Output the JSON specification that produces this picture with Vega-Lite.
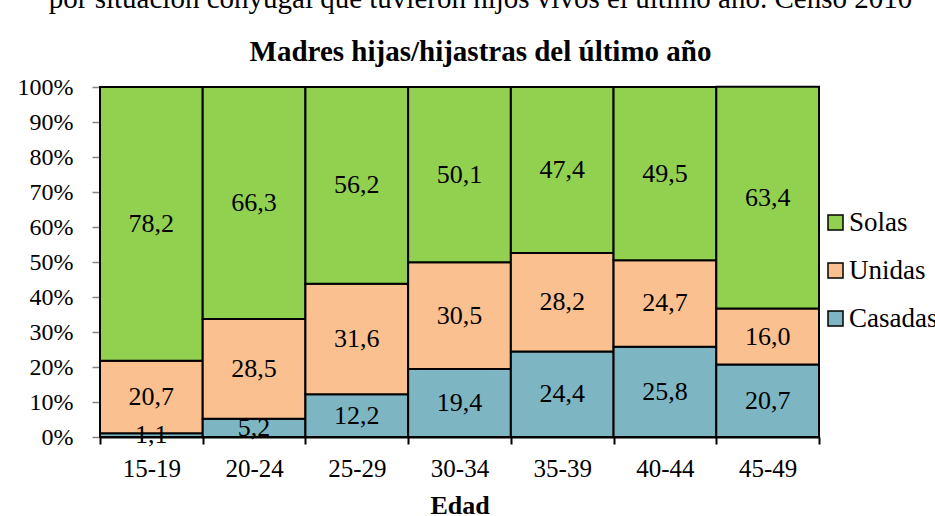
{
  "$schema": "https://vega.github.io/schema/vega-lite/v6.json",
  "width": 719,
  "height": 350,
  "autosize": {"type": "none"},
  "padding": {"left": 100, "top": 87, "right": 116, "bottom": 79},
  "config": {
    "locale": {"number": {"decimal": ",", "thousands": ".", "grouping": [3], "currency": ["", ""]}},
    "view": {"stroke": null},
    "font": "Liberation Serif",
    "axisY": {
      "title": null,
      "values": [0, 10, 20, 30, 40, 50, 60, 70, 80, 90, 100],
      "labelExpr": "datum.value + '%'",
      "labelOverlap": false,
      "grid": false,
      "domainColor": "#868686",
      "domainWidth": 2,
      "tickColor": "#868686",
      "tickWidth": 1.5,
      "tickSize": 8,
      "labelFont": "Liberation Serif",
      "labelFontSize": 24,
      "labelColor": "black",
      "labelPadding": 19
    }
  },
  "title": {
    "text": "por situación conyugal que tuvieron hijos vivos el último año. Censo 2010",
    "subtitle": "Madres hijas/hijastras del último año",
    "font": "Liberation Serif",
    "subtitleFont": "Liberation Serif",
    "fontSize": 29,
    "fontWeight": "normal",
    "subtitleFontSize": 29,
    "subtitleFontWeight": "bold",
    "color": "black",
    "subtitleColor": "black",
    "anchor": "middle",
    "dx": 21,
    "offset": 8,
    "subtitlePadding": 24.5
  },
  "data": {
    "values": [
      {"edad": "15-19", "estado": "Casadas", "orden": 1, "valor": 1.1},
      {"edad": "15-19", "estado": "Unidas", "orden": 2, "valor": 20.7},
      {"edad": "15-19", "estado": "Solas", "orden": 3, "valor": 78.2},
      {"edad": "20-24", "estado": "Casadas", "orden": 1, "valor": 5.2},
      {"edad": "20-24", "estado": "Unidas", "orden": 2, "valor": 28.5},
      {"edad": "20-24", "estado": "Solas", "orden": 3, "valor": 66.3},
      {"edad": "25-29", "estado": "Casadas", "orden": 1, "valor": 12.2},
      {"edad": "25-29", "estado": "Unidas", "orden": 2, "valor": 31.6},
      {"edad": "25-29", "estado": "Solas", "orden": 3, "valor": 56.2},
      {"edad": "30-34", "estado": "Casadas", "orden": 1, "valor": 19.4},
      {"edad": "30-34", "estado": "Unidas", "orden": 2, "valor": 30.5},
      {"edad": "30-34", "estado": "Solas", "orden": 3, "valor": 50.1},
      {"edad": "35-39", "estado": "Casadas", "orden": 1, "valor": 24.4},
      {"edad": "35-39", "estado": "Unidas", "orden": 2, "valor": 28.2},
      {"edad": "35-39", "estado": "Solas", "orden": 3, "valor": 47.4},
      {"edad": "40-44", "estado": "Casadas", "orden": 1, "valor": 25.8},
      {"edad": "40-44", "estado": "Unidas", "orden": 2, "valor": 24.7},
      {"edad": "40-44", "estado": "Solas", "orden": 3, "valor": 49.5},
      {"edad": "45-49", "estado": "Casadas", "orden": 1, "valor": 20.7},
      {"edad": "45-49", "estado": "Unidas", "orden": 2, "valor": 16.0},
      {"edad": "45-49", "estado": "Solas", "orden": 3, "valor": 63.4}
    ]
  },
  "transform": [
    {"stack": "valor", "groupby": ["edad"], "sort": [{"field": "orden"}], "as": ["v0", "v1"]},
    {"calculate": "(datum.v0 + datum.v1) / 2", "as": "mid"}
  ],
  "encoding": {
    "x": {
      "field": "edad",
      "type": "nominal",
      "scale": {"paddingInner": 0, "paddingOuter": 0},
      "axis": {
        "title": "Edad",
        "titleFont": "Liberation Serif",
        "titleFontSize": 26,
        "titleFontWeight": "bold",
        "titleColor": "black",
        "titlePadding": 11,
        "labelAngle": 0,
        "labelFont": "Liberation Serif",
        "labelFontSize": 25,
        "labelColor": "black",
        "labelPadding": 12,
        "tickBand": "extent",
        "tickSize": 7,
        "tickColor": "black",
        "tickWidth": 2,
        "domainColor": "black",
        "domainWidth": 2
      }
    }
  },
  "layer": [
    {
      "mark": {"type": "bar", "stroke": "black", "strokeWidth": 2},
      "encoding": {
        "y": {
          "field": "v0",
          "type": "quantitative",
          "scale": {"domain": [0, 100]}
        },
        "y2": {"field": "v1"},
        "color": {
          "field": "estado",
          "type": "nominal",
          "scale": {"domain": ["Solas", "Unidas", "Casadas"], "range": ["#92D050", "#FAC090", "#7DB5C2"]},
          "legend": {
            "title": null,
            "orient": "none",
            "legendX": 722,
            "legendY": 122,
            "symbolType": "square",
            "symbolSize": 225,
            "symbolStrokeColor": "black",
            "symbolStrokeWidth": 1.5,
            "symbolOpacity": 1,
            "labelFont": "Liberation Serif",
            "labelFontSize": 27,
            "labelColor": "black",
            "labelOffset": 0,
            "labelLimit": 0,
            "rowPadding": 20
          }
        }
      }
    },
    {
      "mark": {"type": "text", "font": "Liberation Serif", "fontSize": 26, "color": "black"},
      "encoding": {
        "y": {"field": "mid", "type": "quantitative"},
        "text": {"field": "valor", "type": "quantitative", "format": ".1f"}
      }
    }
  ]
}
